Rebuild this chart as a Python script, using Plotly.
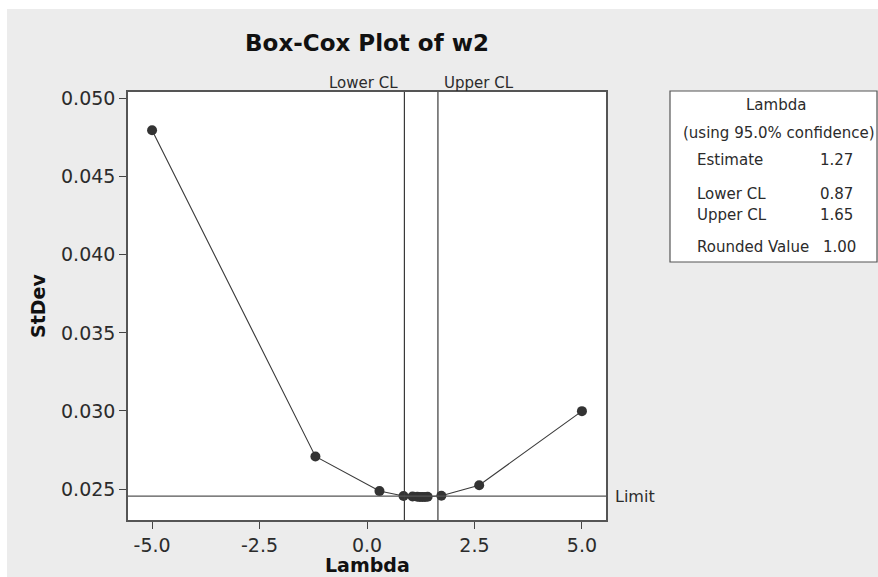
import plotly.graph_objects as go

# Box-Cox search: lambda values evaluated and the resulting StDev
lambdas = [-5.0, -1.2, 0.29, 0.85, 1.06, 1.17, 1.23, 1.29, 1.35, 1.41, 1.73, 2.61, 5.0]
stdevs = [0.04797, 0.02709, 0.02487, 0.02456, 0.02452, 0.02451, 0.02450,
          0.02450, 0.02450, 0.02451, 0.02457, 0.02525, 0.02999]

limit = 0.02455
lower_cl = 0.87
upper_cl = 1.65
estimate = 1.27
rounded = 1.00

x_ticks = [-5.0, -2.5, 0.0, 2.5, 5.0]
y_ticks = [0.025, 0.030, 0.035, 0.040, 0.045, 0.050]

W, H = 878, 577
L, R, T, B = 128, 272, 92, 57
PW, PH = W - L - R, H - T - B

def px(x):
    return (x - L) / PW

def py(y):
    return (H - B - y) / PH

FONT = "DejaVu Sans"
INK = "#2b2b2b"
BG = "#ececec"

fig = go.Figure()

fig.add_trace(go.Scatter(
    x=lambdas, y=stdevs, mode="lines+markers",
    line=dict(color="#3a3a3a", width=1.1),
    marker=dict(color="#333333", size=10),
    hoverinfo="x+y", showlegend=False,
))

shapes = [
    # white strips along the top and left edge of the page
    dict(type="rect", xref="paper", yref="paper", x0=px(-2), x1=px(7), y0=py(H + 5), y1=py(-2),
         fillcolor="white", line_width=0, layer="below"),
    dict(type="rect", xref="paper", yref="paper", x0=px(-2), x1=px(W + 5), y0=py(9), y1=py(-2),
         fillcolor="white", line_width=0, layer="below"),
    # confidence limits and the StDev limit
    dict(type="line", xref="x", yref="paper", x0=lower_cl, x1=lower_cl, y0=0, y1=1,
         line=dict(color="#3a3a3a", width=1.2)),
    dict(type="line", xref="x", yref="paper", x0=upper_cl, x1=upper_cl, y0=0, y1=1,
         line=dict(color="#3a3a3a", width=1.2)),
    dict(type="line", xref="paper", yref="y", x0=0, x1=1, y0=limit, y1=limit,
         line=dict(color="#555555", width=1.2)),
    # lambda summary box
    dict(type="rect", xref="paper", yref="paper", x0=px(670), x1=px(877), y0=py(262), y1=py(91),
         fillcolor="white", line=dict(color="#555555", width=1.2)),
]

ann = [
    dict(text="Lower CL", xref="x", yref="paper", x=lower_cl, y=1, xanchor="right",
         yanchor="bottom", xshift=-4, yshift=-2, showarrow=False,
         font=dict(family=FONT, size=15, color=INK)),
    dict(text="Upper CL", xref="x", yref="paper", x=upper_cl, y=1, xanchor="left",
         yanchor="bottom", xshift=4, yshift=-2, showarrow=False,
         font=dict(family=FONT, size=15, color=INK)),
    dict(text="Limit", xref="paper", yref="y", x=1, y=limit, xanchor="left",
         yanchor="middle", xshift=7, showarrow=False,
         font=dict(family=FONT, size=16, color=INK)),
    # axis titles
    dict(text="<b>Lambda</b>", xref="paper", yref="paper", x=0.5, y=py(565),
         xanchor="center", yanchor="middle", showarrow=False,
         font=dict(family=FONT, size=19, color="#111111")),
    dict(text="<b>StDev</b>", xref="paper", yref="paper", x=px(38), y=0.5, textangle=-90,
         xanchor="center", yanchor="middle", showarrow=False,
         font=dict(family=FONT, size=19, color="#111111")),
]

box_font = dict(family=FONT, size=15, color=INK)
box_rows = [
    ("Lambda", 776, 105, "center"),
    ("(using 95.0% confidence)", 681, 133, "left"),
    ("Estimate", 695, 160, "left"),
    (f"{estimate:.2f}", 818, 160, "left"),
    ("Lower CL", 695, 194, "left"),
    (f"{lower_cl:.2f}", 818, 194, "left"),
    ("Upper CL", 695, 215, "left"),
    (f"{upper_cl:.2f}", 818, 215, "left"),
    ("Rounded Value", 695, 247, "left"),
    (f"{rounded:.2f}", 821, 247, "left"),
]
for text, x, y, anchor in box_rows:
    ann.append(dict(text=text, xref="paper", yref="paper", x=px(x), y=py(y),
                    xanchor=anchor, yanchor="middle", showarrow=False, font=box_font))

axis_common = dict(
    ticks="outside", ticklen=7, tickcolor="#444444",
    showline=True, mirror=True, linecolor="#555555", linewidth=1.5,
    showgrid=False, zeroline=False, automargin=False,
    tickfont=dict(family=FONT, size=19, color=INK),
)

fig.update_layout(
    width=W, height=H,
    margin=dict(l=L, r=R, t=T, b=B, autoexpand=False),
    paper_bgcolor=BG, plot_bgcolor="white",
    title=dict(text="<b>Box-Cox Plot of w2</b>", x=px(367), xref="paper",
               y=1 - 43 / H, yanchor="middle",
               font=dict(family=FONT, size=23, color="#111111")),
    shapes=shapes, annotations=ann,
    xaxis=dict(range=[-5.56, 5.56], tickvals=x_ticks,
               ticktext=[f"{v:.1f}" for v in x_ticks], **axis_common),
    yaxis=dict(range=[0.02302, 0.05042], tickvals=y_ticks,
               ticktext=[f"{v:.3f}" for v in y_ticks], **axis_common),
)

fig.write_html("out.html")
